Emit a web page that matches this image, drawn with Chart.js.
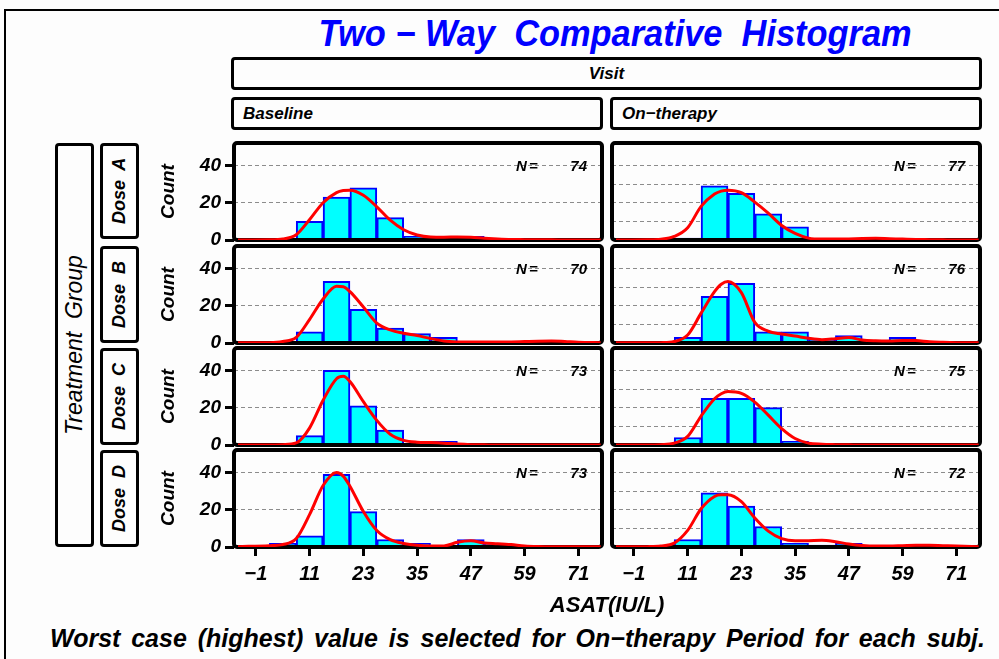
<!DOCTYPE html>
<html>
<head>
<meta charset="utf-8">
<script src="https://cdn.jsdelivr.net/npm/chart.js@4"></script>
<style>
  body { margin: 0; width: 999px; height: 659px; overflow: hidden; position: relative; background: #fdfdfd;
         font-family: 'Liberation Sans', Arial, sans-serif; }
  .frame { position: absolute; left: 4px; top: 9px; width: 1000px; height: 700px; border-top: 2px solid #000; border-left: 2px solid #000; }
  .strip { position: absolute; box-sizing: border-box; border: 3px solid #000; border-radius: 4px; background: #fdfdfd;
           font-style: italic; font-weight: bold; display: flex; align-items: center; }
  .vert { writing-mode: vertical-rl; transform: rotate(180deg); justify-content: center; }
  .txt { position: absolute; font-style: italic; font-weight: bold; white-space: nowrap; }
  .panel { position: absolute; }
</style>
</head>
<body>
<div class="frame"></div>
<div class="txt" id="title" style="left:300px; top:13px; width:630px; text-align:center; color:#0000ff; font-size:36px; transform:scaleX(0.955);">Two − Way&nbsp; Comparative&nbsp; Histogram</div>
<div class="strip" style="left:231px; top:57px; width:751px; height:33px; justify-content:center; font-size:17px;">Visit</div>
<div id="charts"></div>
<div class="txt" style="left:507px; top:592px; width:200px; text-align:center; font-size:22px;">ASAT(IU/L)</div>
<div class="txt" style="left:50px; top:624px; width:935px; font-size:25px; text-align:justify; text-align-last:justify;">Worst case (highest) value is selected for On−therapy Period for each subj.</div>

<script>
// bins are 6 units wide, centred on these values
const binCenters = [-1, 5, 11, 17, 23, 29, 35, 41, 47, 53, 59, 65, 71];
const xTickValues = [-1, 11, 23, 35, 47, 59, 71];
const xTickLabels = ['−1', '11', '23', '35', '47', '59', '71'];
const yTickValues = [0, 10, 20, 30, 40];
const yTickLabels = [0, 20, 40];

const doses = ['Dose  A', 'Dose  B', 'Dose  C', 'Dose  D'];
const visits = ['Baseline', 'On−therapy'];
const nBaseline = [74, 70, 73, 73];
const nOnTherapy = [77, 76, 75, 72];

const countsBaseA = [0, 0, 10, 23, 28, 12, 2, 0, 2, 0, 0, 0, 0];
const countsOnA   = [0, 0, 1, 29, 25, 14, 7, 0, 0, 1, 0, 0, 0];
const countsBaseB = [0, 0, 6, 33, 18, 8, 5, 3, 0, 0, 0, 1, 0];
const countsOnB   = [0, 0, 3, 25, 32, 6, 6, 2, 4, 0, 3, 0, 0];
const countsBaseC = [0, 0, 5, 40, 21, 8, 0, 2, 0, 0, 0, 0, 0];
const countsOnC   = [0, 0, 4, 25, 25, 20, 2, 0, 0, 0, 0, 0, 0];
const countsBaseD = [0, 2, 6, 39, 19, 4, 2, 0, 4, 2, 0, 0, 0];
const countsOnD   = [0, 0, 4, 29, 22, 11, 2, 1, 2, 0, 0, 1, 0];

// density curves at these x positions
const curveX = [-5, 2, 5, 8, 11, 14, 17, 18.5, 20, 23, 26, 29, 32, 35, 38, 41, 44, 47, 50, 53, 56, 59, 62, 65, 68, 71, 76];
const curveBaseA = [0, 0.1, 0.5, 2.8, 11, 20, 25.4, 26.5, 26.7, 24, 17.8, 10.6, 5.5, 2.7, 1.6, 1.5, 1.6, 1.5, 1, 0.6, 0.3, 0.2, 0.1, 0.1, 0, 0, 0];
const curveOnA   = [0, 0.1, 0.4, 1.9, 6.6, 18, 24.6, 26.2, 26.7, 25.4, 20.3, 14.4, 7.8, 3.5, 1, 0.5, 0.5, 0.6, 0.8, 0.9, 0.7, 0.5, 0.3, 0.2, 0.1, 0, 0];
const curveBaseB = [0.1, 0.2, 0.8, 3, 12.7, 23.6, 30.4, 30.2, 27.5, 19.3, 10.7, 7, 5.2, 4, 2.4, 1.1, 0.6, 0.5, 0.5, 0.5, 0.6, 0.8, 1, 1.1, 0.8, 0.4, 0.2];
const curveOnB   = [0.1, 0.1, 0.2, 0.8, 4.3, 16, 27.5, 31.5, 33, 27, 11, 6.3, 4.8, 3.7, 2.5, 1.8, 2.3, 2.9, 1.6, 1.2, 1.1, 1.4, 1.3, 0.7, 0.4, 0.2, 0.1];
const curveBaseC = [0, 0, 0.2, 1.1, 9.2, 24, 35.5, 36.8, 34, 23.2, 13.2, 5.8, 2.5, 1.5, 1.3, 1, 0.5, 0.2, 0.1, 0, 0, 0, 0, 0, 0, 0, 0];
const curveOnC   = [0, 0, 0.2, 1, 4.6, 15.5, 24.8, 27.5, 28.7, 27.7, 23, 16, 8.8, 3.5, 1, 0.4, 0.2, 0.1, 0, 0, 0, 0, 0, 0, 0, 0, 0];
const curveBaseD = [0.2, 0.7, 1.3, 4.5, 17.5, 33, 40, 38, 32.6, 19, 8.8, 3.9, 1.9, 0.9, 0.6, 0.6, 2.5, 3.3, 2.2, 1.8, 1.3, 0.6, 0.3, 0.2, 0.2, 0.2, 0.2];
const curveOnD   = [0.1, 0.2, 0.5, 2.1, 8.9, 20.5, 27.1, 28, 28, 24.3, 15.5, 8.5, 4.5, 3.3, 3.4, 3.6, 2.8, 1.6, 0.8, 0.5, 0.5, 0.7, 0.9, 0.9, 0.7, 0.5, 0.2];

const counts = [[countsBaseA, countsOnA], [countsBaseB, countsOnB], [countsBaseC, countsOnC], [countsBaseD, countsOnD]];
const curves = [[curveBaseA, curveOnA], [curveBaseB, curveOnB], [curveBaseC, curveOnC], [curveBaseD, curveOnD]];
const nValues = [nBaseline, nOnTherapy];

// layout
const plotLeft = [234, 612];
const rowTop = [143, 246, 348, 450];
const PLOT_W = 368, PLOT_H = 97;
const PAD = 18, Y_AXIS_W = 84, X_AXIS_H = 46;
const X_MIN = -5.9, X_MAX = 76.3, Y_MAX = 52;
const FONT = "'Liberation Sans', Arial, sans-serif";
const yTickFont = { family: FONT, size: 19, weight: 'bold', style: 'italic' };
const xTickFont = { family: FONT, size: 20, weight: 'bold', style: 'italic' };

Chart.defaults.font.family = FONT;

const container = document.getElementById('charts');

function addStrip(left, top, width, height, text, cls, style) {
  const d = document.createElement('div');
  d.className = 'strip ' + (cls || '');
  d.style.cssText = `left:${left}px;top:${top}px;width:${width}px;height:${height}px;` + (style || '');
  d.textContent = text;
  document.body.appendChild(d);
}

addStrip(231, 97, 372, 33, visits[0], '', 'padding-left:9px;font-size:17px;');
addStrip(610, 97, 372, 33, visits[1], '', 'padding-left:9px;font-size:17px;');
addStrip(55, 143, 39, 404, 'Treatment  Group', 'vert', 'font-weight:normal;font-size:23px;white-space:pre;');
doses.forEach((d, r) => {
  addStrip(100, rowTop[r], 39, PLOT_H + (r === 0 ? -1 : 0), d, 'vert', 'font-size:18px;white-space:pre;');
});

const panelDecor = {
  id: 'panelDecor',
  afterDatasetDraw(chart, args) {
    if (args.meta.type !== 'bar') return;
    const { ctx, chartArea: a } = chart;
    ctx.save();
    ctx.lineWidth = 4;
    ctx.strokeStyle = '#000';
    ctx.beginPath();
    ctx.roundRect(a.left, a.top, a.width, a.height, 3);
    ctx.stroke();
    ctx.restore();
  },
  afterDraw(chart, args, opts) {
    const { ctx, chartArea: a } = chart;
    ctx.save();
    ctx.fillStyle = '#000';
    ctx.font = `italic bold 15px ${FONT}`;
    ctx.textBaseline = 'middle';
    ctx.textAlign = 'left';
    ctx.fillText('N', a.left + 282, a.top + 24);
    ctx.fillText('=', a.left + 295, a.top + 24);
    ctx.textAlign = 'right';
    ctx.fillText(String(opts.n), a.left + 353, a.top + 24);
    ctx.restore();
  }
};

function buildPanel(r, c) {
  const isLeft = c === 0;
  const isBottom = r === doses.length - 1;
  const w = (isLeft ? Y_AXIS_W : PAD) + PLOT_W + PAD;
  const h = PAD + PLOT_H + (isBottom ? X_AXIS_H : PAD);
  const wrap = document.createElement('div');
  wrap.className = 'panel';
  wrap.style.left = (plotLeft[c] - (isLeft ? Y_AXIS_W : PAD)) + 'px';
  wrap.style.top = (rowTop[r] - PAD) + 'px';
  const cv = document.createElement('canvas');
  cv.width = w;
  cv.height = h;
  wrap.appendChild(cv);
  container.appendChild(wrap);

  new Chart(cv, {
    data: {
      datasets: [
        {
          type: 'bar',
          order: 1,
          data: binCenters.map((x, i) => ({ x, y: counts[r][c][i] })),
          backgroundColor: '#00ffff',
          borderColor: '#0000ff',
          borderWidth: 2,
          barPercentage: 1,
          categoryPercentage: 1
        },
        {
          type: 'line',
          order: 0,
          data: curveX.map((x, i) => ({ x, y: curves[r][c][i] })),
          borderColor: '#ff0000',
          borderWidth: 3,
          pointRadius: 0,
          fill: false,
          cubicInterpolationMode: 'monotone'
        }
      ]
    },
    options: {
      responsive: false,
      animation: false,
      events: [],
      layout: { padding: { top: PAD, right: PAD, bottom: isBottom ? 0 : PAD, left: isLeft ? 0 : PAD } },
      plugins: {
        legend: { display: false },
        tooltip: { enabled: false },
        panelDecor: { n: nValues[c][r] }
      },
      scales: {
        x: {
          type: 'linear',
          min: X_MIN,
          max: X_MAX,
          offset: false,
          display: isBottom,
          afterBuildTicks: s => { s.ticks = xTickValues.map(v => ({ value: v })); },
          afterFit: s => { if (isBottom) s.height = X_AXIS_H; },
          grid: { offset: false, drawOnChartArea: false, drawTicks: true, tickLength: 9, tickColor: '#000', tickWidth: 3 },
          border: { display: false },
          ticks: { font: xTickFont, color: '#000', padding: 6, autoSkip: false, maxRotation: 0,
                   callback: (v, i) => xTickLabels[i] }
        },
        y: {
          type: 'linear',
          min: 0,
          max: Y_MAX,
          afterBuildTicks: s => { s.ticks = yTickValues.map(v => ({ value: v })); },
          afterFit: s => { s.width = isLeft ? Y_AXIS_W : 0; },
          grid: { color: '#8c8c8c', lineWidth: 1, drawTicks: isLeft, tickLength: 9, tickColor: '#000', tickWidth: 3, tickBorderDash: [] },
          border: { display: false, dash: [4, 3] },
          ticks: { display: isLeft, font: yTickFont, color: '#000', padding: 4,
                   callback: v => yTickLabels.includes(v) ? String(v) : '' },
          title: { display: isLeft, text: 'Count', color: '#000', font: yTickFont, padding: { top: 7, bottom: 0 } }
        }
      }
    },
    plugins: [panelDecor]
  });
}

for (let r = 0; r < doses.length; r++) {
  for (let c = 0; c < visits.length; c++) buildPanel(r, c);
}
</script>
</body>
</html>
